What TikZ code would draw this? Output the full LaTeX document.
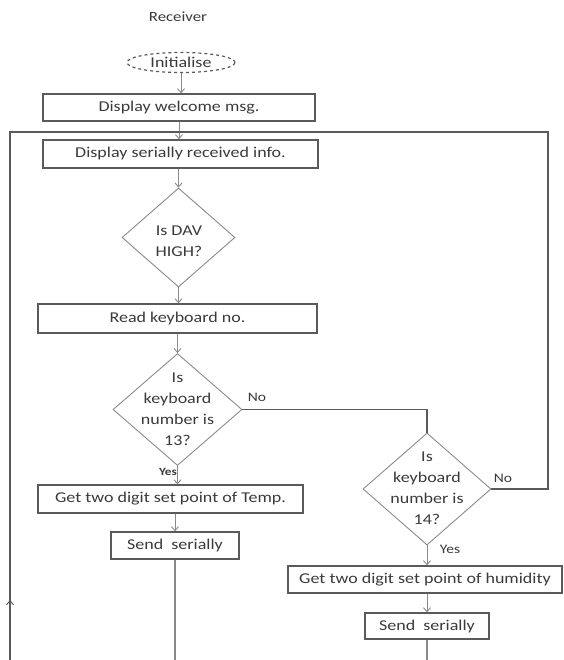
\documentclass[tikz,border=0pt]{standalone}
\usepackage{fontspec}
\setmainfont[FakeStretch=1.2]{Carlito}
\usetikzlibrary{shapes.geometric,arrows.meta}
\definecolor{ink}{HTML}{3A3A3A}
\definecolor{edge}{HTML}{5A5A5A}
\definecolor{thin}{HTML}{8A8A8A}
\begin{document}
\begin{tikzpicture}[x=1pt,y=-1pt,
  every node/.style={text=ink},
  txt/.style={font=\fontsize{15}{21}\selectfont},
  procbox/.style={draw=edge,line width=1.3pt,rectangle,inner sep=0pt,txt},
  decision/.style={draw=thin,line width=0.9pt,diamond,inner sep=0pt},
  startnode/.style={draw=edge,line width=1.2pt,dashed,ellipse,inner sep=0pt,txt},
  flow/.style={draw=thin,line width=0.9pt},
  arr/.style={flow,-{Straight Barb[length=4pt,width=7pt]}},
  loopline/.style={draw=edge,line width=1.7pt},
  lbl/.style={font=\fontsize{13}{15}\selectfont}]
\useasboundingbox (0,0) rectangle (563,660);

% title
\node[font=\fontsize{14}{16}\selectfont] (title) at (178,17) {Receiver};

% main column
\node[startnode,minimum width=108pt,minimum height=20pt] (init) at (181,62.5) {Initialise};
\node[procbox,minimum width=272pt,minimum height=27pt] (welcome) at (179,107.5) {Display welcome msg.};
\node[procbox,minimum width=275pt,minimum height=28pt] (serial) at (180.5,154) {Display serially received info.};
\node[decision,minimum width=113pt,minimum height=99pt] (dav) at (178.5,237.5) {};
\node[txt,align=center] (davtxt) at (179,241) {Is DAV\\HIGH?};
\node[procbox,minimum width=279pt,minimum height=29pt] (read) at (177.5,318.5) {Read keyboard no.};
\node[decision,minimum width=129pt,minimum height=112pt] (k13) at (177.5,409.5) {};
\node[txt,align=center] (k13txt) at (177.5,409) {Is\\keyboard\\number is\\13?};
\node[procbox,minimum width=265pt,minimum height=28pt] (temp) at (170.5,499) {Get two digit set point of Temp.};
\node[procbox,minimum width=128pt,minimum height=27pt] (send1) at (175,545.5) {Send\ \ serially};

% right branch
\node[decision,minimum width=128pt,minimum height=112pt] (k14) at (427,489) {};
\node[txt,align=center] (k14txt) at (427,488) {Is\\keyboard\\number is\\14?};
\node[procbox,minimum width=274pt,minimum height=27pt] (hum) at (425,579.5) {Get two digit set point of humidity};
\node[procbox,minimum width=124pt,minimum height=26pt] (send2) at (427,626) {Send\ \ serially};

% branch labels
\node[lbl] (no1) at (257,397) {No};
\node[lbl] (no2) at (503,478) {No};
\node[lbl,font=\bfseries\fontsize{11}{13}\selectfont] (yes1) at (168,472) {Yes};
\node[lbl] (yes2) at (450,549) {Yes};

% loop frame corners
\coordinate (tr) at (548,132);
\coordinate (tl) at (10,132);
\coordinate (bl) at (10,660);
\coordinate (uptail) at (10,612);
\coordinate (uptip) at (10,600);

% straight flow
\draw[arr] (init.south) -- (init.south |- welcome.north);
\draw[arr] (welcome.south) -- (welcome.south |- serial.north);
\draw[arr] (dav.north |- serial.south) -- (dav.north);
\draw[arr] (dav.south) -- (dav.south |- read.north);
\draw[arr] (k13.north |- read.south) -- (k13.north);
\draw[arr] (k13.south) -- (k13.south |- temp.north);
\draw[arr] (temp.south -| send1.north) -- (send1.north);
\draw[arr] (k14.south) -- (k14.south |- hum.north);
\draw[arr] (hum.south -| send2.north) -- (send2.north);

% "No" branch to the second test
\draw[loopline,line width=1.4pt] (k13.east) -| (k14.north);

% "No" branch back to the top of the loop
\draw[loopline] (k14.east) -| (tr) -- (tl) -- (bl);
\draw[draw=edge,line width=1pt,-{Straight Barb[length=4pt,width=7pt]}] (uptail) -- (uptip);

% outputs continuing downward
\draw[flow,line width=1.3pt] (send1.south) -- (send1.south |- bl);
\draw[flow,line width=1.1pt] (send2.south) -- (send2.south |- bl);
\end{tikzpicture}
\end{document}
